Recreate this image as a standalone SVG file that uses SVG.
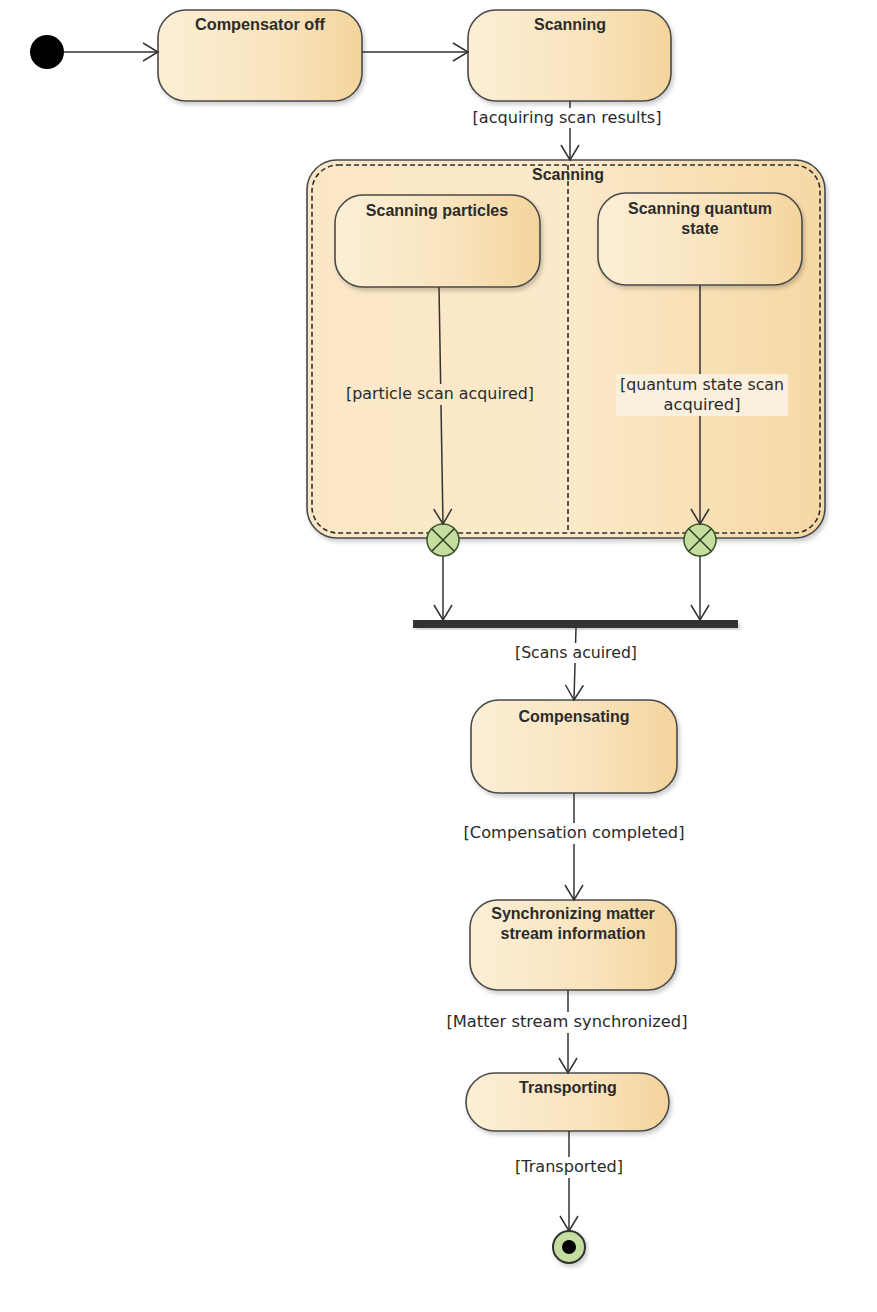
<svg xmlns="http://www.w3.org/2000/svg" width="877" height="1312" viewBox="0 0 877 1312">
<defs>
<linearGradient id="g" x1="0" y1="0" x2="1" y2="0">
<stop offset="0" stop-color="#fcefd6"/>
<stop offset="0.6" stop-color="#f9e3bc"/>
<stop offset="1" stop-color="#f4d49c"/>
</linearGradient>
<linearGradient id="gc" x1="0" y1="0" x2="1" y2="0">
<stop offset="0" stop-color="#fbe7c6"/>
<stop offset="0.5" stop-color="#fbe9c9"/>
<stop offset="1" stop-color="#f6d8a4"/>
</linearGradient>
<filter id="sh" x="-10%" y="-10%" width="120%" height="130%">
<feDropShadow dx="2" dy="3" stdDeviation="2" flood-color="#000" flood-opacity="0.2"/>
</filter>
<marker id="arr" markerUnits="userSpaceOnUse" markerWidth="18" markerHeight="20" viewBox="0 0 18 20" refX="16" refY="10" orient="auto">
<path d="M1,1 L16,10 L1,19" fill="none" stroke="#333" stroke-width="1.5"/>
</marker>
</defs>
<style>
.st{fill:url(#g);stroke:#4a4a4a;stroke-width:1.6;filter:url(#sh)}
.ti{font-family:"Liberation Sans",Arial,sans-serif;font-weight:bold;font-size:16px;fill:#2b2b2b;text-anchor:middle}
.lb{font-family:"DejaVu Sans",Verdana,sans-serif;font-size:15px;fill:#2a2a2a;text-anchor:middle}
.cn{stroke:#333;stroke-width:1.5;fill:none}
.dash{fill:none;stroke:#2e2e2e;stroke-width:1.6;stroke-dasharray:5,3}
.ex{fill:#c5dea0;stroke:#3f5a2c;stroke-width:1.6}
</style>

<g id="initial">
<circle cx="47" cy="52" r="17" fill="#000"/>
</g>

<g id="compensator-off">
<rect class="st" x="158" y="10" width="204" height="91" rx="28"/>
<text class="ti" x="260" y="30" textLength="130" lengthAdjust="spacingAndGlyphs">Compensator off</text>
</g>

<g id="scanning-top">
<rect class="st" x="468" y="10" width="203" height="91" rx="28"/>
<text class="ti" x="570" y="30">Scanning</text>
</g>

<g id="scanning-composite">
<rect class="st" style="fill:url(#gc)" x="307" y="160" width="518" height="378" rx="30"/>
<rect class="dash" x="312" y="165" width="508" height="368" rx="26"/>
<line class="dash" x1="568" y1="165" x2="568" y2="533"/>
<text class="ti" x="568" y="180">Scanning</text>
</g>

<g id="scanning-particles">
<rect class="st" x="335" y="195" width="205" height="92" rx="28"/>
<text class="ti" x="437" y="216">Scanning particles</text>
</g>

<g id="scanning-quantum-state">
<rect class="st" x="598" y="193" width="204" height="92" rx="28"/>
<text class="ti" x="700" y="214">Scanning quantum</text>
<text class="ti" x="700" y="234">state</text>
</g>

<g id="exit-particles">
<circle class="ex" cx="443" cy="540" r="16"/>
<path d="M432,529 L454,551 M454,529 L432,551" stroke="#2e3b22" stroke-width="1.5"/>
</g>

<g id="exit-quantum">
<circle class="ex" cx="700" cy="540" r="16"/>
<path d="M689,529 L711,551 M711,529 L689,551" stroke="#2e3b22" stroke-width="1.5"/>
</g>

<g id="join">
<rect x="413" y="620" width="325" height="8" fill="#333" filter="url(#sh)"/>
</g>

<g id="compensating">
<rect class="st" x="471" y="700" width="206" height="93" rx="28"/>
<text class="ti" x="574" y="722">Compensating</text>
</g>

<g id="synchronizing">
<rect class="st" x="470" y="900" width="206" height="90" rx="28"/>
<text class="ti" x="573" y="919">Synchronizing matter</text>
<text class="ti" x="573" y="939">stream information</text>
</g>

<g id="transporting">
<rect class="st" x="466" y="1073" width="203" height="58" rx="29"/>
<text class="ti" x="568" y="1093">Transporting</text>
</g>

<g id="final">
<circle cx="569" cy="1247" r="16" fill="#c5dea0" stroke="#333" stroke-width="2" filter="url(#sh)"/>
<circle cx="569" cy="1247" r="7" fill="#000"/>
</g>

<g id="connectors">
<line class="cn" x1="64" y1="52" x2="158" y2="52" marker-end="url(#arr)"/>
<line class="cn" x1="362" y1="52" x2="468" y2="52" marker-end="url(#arr)"/>
<line class="cn" x1="570" y1="101" x2="570" y2="160" marker-end="url(#arr)"/>
<line class="cn" x1="439" y1="287" x2="443" y2="524" marker-end="url(#arr)"/>
<line class="cn" x1="700" y1="285" x2="700" y2="524" marker-end="url(#arr)"/>
<line class="cn" x1="443" y1="556" x2="443" y2="620" marker-end="url(#arr)"/>
<line class="cn" x1="700" y1="556" x2="700" y2="620" marker-end="url(#arr)"/>
<line class="cn" x1="576" y1="628" x2="574" y2="700" marker-end="url(#arr)"/>
<line class="cn" x1="574" y1="793" x2="574" y2="900" marker-end="url(#arr)"/>
<line class="cn" x1="568" y1="990" x2="568" y2="1073" marker-end="url(#arr)"/>
<line class="cn" x1="569" y1="1131" x2="569" y2="1231" marker-end="url(#arr)"/>

<rect x="470" y="108" width="196" height="20" fill="#fff"/>
<text class="lb" x="567" y="123" textLength="189" lengthAdjust="spacingAndGlyphs">[acquiring scan results]</text>

<rect x="343" y="384" width="196" height="21" fill="#fbe8c8"/>
<text class="lb" x="440" y="399" textLength="188" lengthAdjust="spacingAndGlyphs">[particle scan acquired]</text>

<rect x="616" y="374" width="172" height="42" fill="#fbf0dd"/>
<text class="lb" x="702" y="390" textLength="164" lengthAdjust="spacingAndGlyphs">[quantum state scan</text>
<text class="lb" x="702" y="410" textLength="77" lengthAdjust="spacingAndGlyphs">acquired]</text>

<rect x="511" y="643" width="130" height="20" fill="#fff"/>
<text class="lb" x="576" y="658" textLength="122" lengthAdjust="spacingAndGlyphs">[Scans acuired]</text>

<rect x="460" y="823" width="228" height="21" fill="#fff"/>
<text class="lb" x="574" y="838" textLength="221" lengthAdjust="spacingAndGlyphs">[Compensation completed]</text>

<rect x="444" y="1012" width="248" height="21" fill="#fff"/>
<text class="lb" x="567" y="1027" textLength="241" lengthAdjust="spacingAndGlyphs">[Matter stream synchronized]</text>

<rect x="511" y="1157" width="116" height="21" fill="#fff"/>
<text class="lb" x="569" y="1172" textLength="108" lengthAdjust="spacingAndGlyphs">[Transported]</text>
</g>
</svg>
